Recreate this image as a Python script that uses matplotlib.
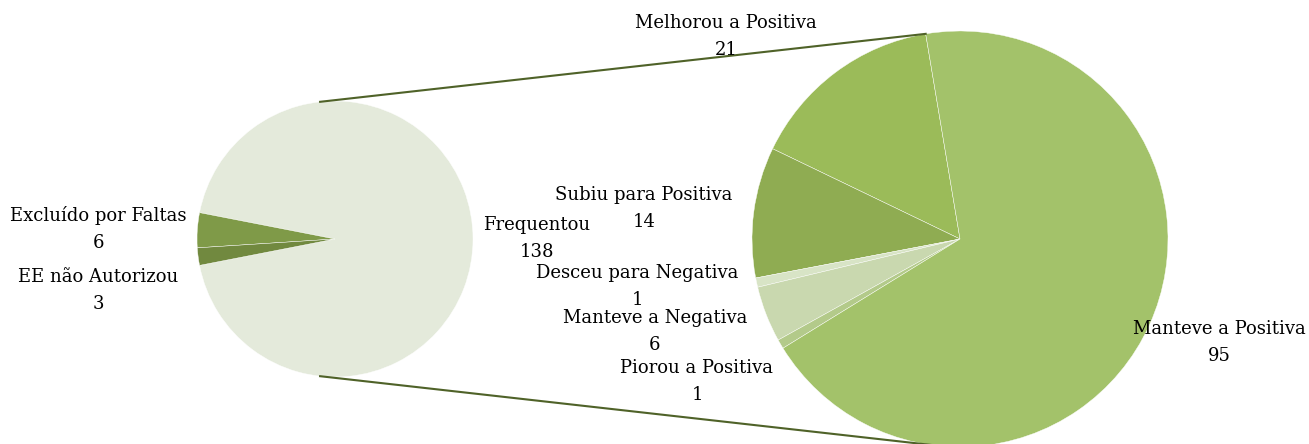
import matplotlib.pyplot as plt
import numpy as np

# main pie
main_labels = ["Frequentou", "Excluído por Faltas", "EE não Autorizou"]
main_values = [138, 6, 3]
main_colors = ["#E4EADB", "#7F9A48", "#71893F"]

# secondary pie (breakdown of "Frequentou")
sub_labels = ["Melhorou a Positiva", "Subiu para Positiva", "Desceu para Negativa",
              "Manteve a Negativa", "Piorou a Positiva", "Manteve a Positiva"]
sub_values = [21, 14, 1, 6, 1, 95]
sub_colors = ["#9BBB59", "#8FAC52", "#D8E4C6", "#C9D8AF", "#B3CA8A", "#A3C26A"]

W, H = 1309, 444
c1, r1 = (335, H - 239), 138
c2, r2 = (960, H - 239), 208

fig = plt.figure(figsize=(W / 100, H / 100), dpi=100)
ax = fig.add_axes([0, 0, 1, 1])

start1 = -180 * main_values[0] / sum(main_values)
ax.pie(main_values, colors=main_colors, center=c1, radius=r1, startangle=start1,
       counterclock=True, frame=True, wedgeprops=dict(edgecolor="white", linewidth=0.3))
ax.pie(sub_values, colors=sub_colors, center=c2, radius=r2, startangle=99.5,
       counterclock=True, frame=True, wedgeprops=dict(edgecolor="white", linewidth=0.3))

# connector lines
def pt(c, r, a):
    a = np.deg2rad(a)
    return c[0] + r * np.cos(a), c[1] + r * np.sin(a)

for a1, a2 in [(96.2, 99.5), (263.8, 265.5)]:
    x1, y1 = pt(c1, r1, a1)
    x2, y2 = pt(c2, r2, a2)
    ax.plot([x1, x2], [y1, y2], color="#4F6228", lw=1.5)

font = dict(family="DejaVu Serif", fontsize=13, color="black", ha="center", va="center")

main_pos = [(537, 225), (98, 216), (98, 277)]
for lab, v, (x, y) in zip(main_labels, main_values, main_pos):
    ax.text(x, H - y, lab, **font)
    ax.text(x, H - y - 27, str(v), **font)

sub_pos = [(726, 23), (644, 195), (637, 273), (655, 318), (697, 368), (1219, 329)]
for lab, v, (x, y) in zip(sub_labels, sub_values, sub_pos):
    ax.text(x, H - y, lab, **font)
    ax.text(x, H - y - 27, str(v), **font)

ax.set_xlim(0, W)
ax.set_ylim(0, H)
ax.set_aspect("equal")
ax.set_axis_off()

fig.savefig("out.png", dpi=100, facecolor="white")
